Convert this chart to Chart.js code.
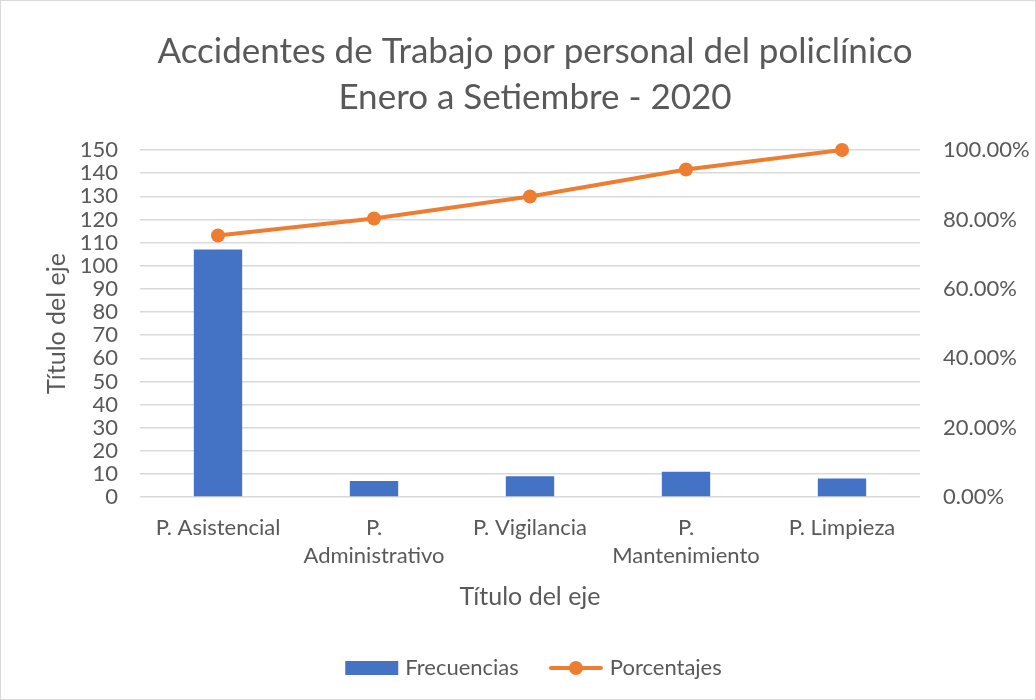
<!DOCTYPE html>
<html>
<head>
<meta charset="utf-8">
<style>
  body { margin: 0; background: #fff; }
  #wrap { width: 1036px; height: 700px; box-sizing: border-box; border: 1px solid #d9d9d9; }
</style>
</head>
<body>
<div id="wrap"><canvas id="paretoChart"></canvas></div>
<script src="https://cdn.jsdelivr.net/npm/chart.js"></script>
<script>
// data
const categories = ["P. Asistencial", ["P.", "Administrativo"], "P. Vigilancia", ["P.", "Mantenimiento"], "P. Limpieza"];
const frecuencias = [107, 7, 9, 11, 8];
const porcentajes = [75.35, 80.28, 86.62, 94.37, 100];
const leftTicks = [0, 150, 10];
const rightTicks = [0, 100, 20];

const blue = "#4472C4";
const orange = "#ED7D31";
const grey = "#595959";
const fontName = "Lato, 'Open Sans', sans-serif";

// little legend pictures: a flat bar and a line with a dot
function swatch(kind) {
  const c = document.createElement("canvas");
  c.width = 56; c.height = 16;
  const g = c.getContext("2d");
  if (kind === "bar") {
    g.fillStyle = blue;
    g.fillRect(2, 1, 53, 14);
  } else {
    g.strokeStyle = orange;
    g.lineWidth = 4;
    g.lineCap = "round";
    g.beginPath(); g.moveTo(3, 8); g.lineTo(53, 8); g.stroke();
    g.fillStyle = orange;
    g.beginPath(); g.arc(28, 8, 7, 0, Math.PI * 2); g.fill();
  }
  return c;
}

const ctx = document.getElementById("paretoChart").getContext("2d");
new Chart(ctx, {
  data: {
    labels: categories,
    datasets: [
      {
        type: "line",
        label: "Porcentajes",
        data: porcentajes,
        yAxisID: "y1",
        borderColor: orange,
        backgroundColor: orange,
        borderWidth: 4,
        pointRadius: 7,
        pointHoverRadius: 7,
        pointBorderWidth: 0,
        clip: false,
        order: 0
      },
      {
        type: "bar",
        label: "Frecuencias",
        data: frecuencias,
        yAxisID: "y",
        backgroundColor: blue,
        categoryPercentage: 1,
        barPercentage: 0.31,
        order: 1
      }
    ]
  },
  options: {
    responsive: true,
    maintainAspectRatio: false,
    animation: false,
    layout: { padding: { left: 37, right: 3, top: 28, bottom: 10 } },
    plugins: {
      title: {
        display: true,
        text: ["Accidentes de Trabajo por personal del policlínico", "Enero a Setiembre - 2020"],
        color: grey,
        font: { family: fontName, size: 35, weight: "normal", lineHeight: 1.3 },
        padding: { top: 0, bottom: 30 }
      },
      legend: {
        position: "bottom",
        labels: {
          color: grey,
          font: { family: fontName, size: 22 },
          usePointStyle: true,
          pointStyleWidth: 46,
          padding: 34,
          generateLabels: () => [
            { text: "Frecuencias", pointStyle: swatch("bar"), fillStyle: blue, strokeStyle: blue, lineWidth: 0, fontColor: grey, datasetIndex: 1 },
            { text: "Porcentajes", pointStyle: swatch("line"), fillStyle: orange, strokeStyle: orange, lineWidth: 0, fontColor: grey, datasetIndex: 0 }
          ]
        }
      },
      tooltip: { enabled: false }
    },
    scales: {
      x: {
        grid: { display: false },
        border: { display: false },
        ticks: { color: grey, font: { family: fontName, size: 22, lineHeight: 1.27 }, padding: 9, maxRotation: 0, autoSkip: false },
        title: { display: true, text: "Título del eje", color: grey, font: { family: fontName, size: 25 }, padding: { top: 3, bottom: 11 } }
      },
      y: {
        position: "left",
        min: leftTicks[0],
        max: leftTicks[1],
        grid: { color: "#d9d9d9", lineWidth: 1.5, drawTicks: false },
        border: { display: false },
        ticks: { stepSize: leftTicks[2], autoSkip: false, color: grey, font: { family: fontName, size: 22 }, padding: 22 },
        title: { display: true, text: "Título del eje", color: grey, font: { family: fontName, size: 25 } },
        afterFit: s => { s.width = 102; }
      },
      y1: {
        position: "right",
        min: rightTicks[0],
        max: rightTicks[1],
        grid: { display: false, drawTicks: false },
        border: { display: false },
        ticks: {
          stepSize: rightTicks[2],
          autoSkip: false,
          color: grey,
          font: { family: fontName, size: 22 },
          padding: 23,
          callback: v => v.toFixed(2) + "%"
        },
        afterFit: s => { s.width = 112; }
      }
    }
  }
});
</script>
</body>
</html>
